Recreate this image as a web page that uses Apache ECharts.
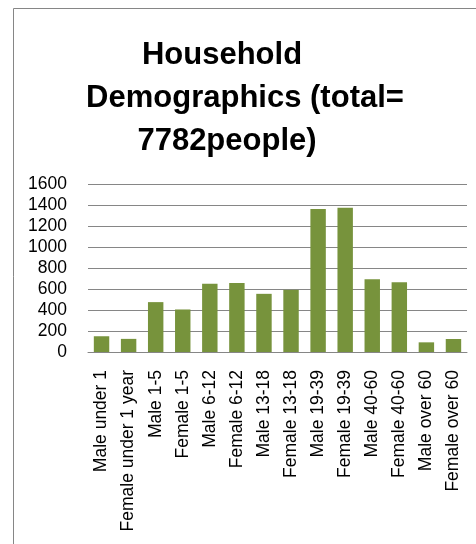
<!DOCTYPE html>
<html>
<head>
<meta charset="utf-8">
<script src="https://cdn.jsdelivr.net/npm/echarts@6/dist/echarts.min.js"></script>
<style>
  html, body { margin: 0; padding: 0; background: #fff; }
  #chart { width: 476px; height: 544px; }
</style>
</head>
<body>
<div id="chart"></div>
<script>
  // categories and values
  var categories = ['Male under 1', 'Female under 1 year', 'Male 1-5', 'Female 1-5',
    'Male 6-12', 'Female 6-12', 'Male 13-18', 'Female 13-18', 'Male 19-39',
    'Female 19-39', 'Male 40-60', 'Female 40-60', 'Male over 60', 'Female over 60'];
  var people = [150, 125, 475, 405, 650, 656, 554, 592, 1362, 1375, 694, 665, 92, 124];
  var titleLines = ['Household', 'Demographics (total=', '7782people)'];

  var chart = echarts.init(document.getElementById('chart'));

  var titleFont = {fontFamily: 'Liberation Sans', fontWeight: 'bold', fontSize: 31, color: '#000'};

  var option = {
    animation: false,
    // three title lines, each centred the way the picture has them
    title: [
      {text: titleLines[0], left: 217, top: 35, textAlign: 'center', textStyle: titleFont},
      {text: titleLines[1], left: 240, top: 78, textAlign: 'center', textStyle: titleFont},
      {text: titleLines[2], left: 222, top: 121, textAlign: 'center', textStyle: titleFont}
    ],
    graphic: [{
      type: 'rect',
      shape: {x: 13.5, y: 8.5, width: 600, height: 700},
      style: {fill: 'none', stroke: '#868686', lineWidth: 1},
      silent: true
    }],
    grid: {left: 88, right: 9, top: 184, bottom: 192},
    xAxis: {
      type: 'category',
      data: categories,
      axisTick: {show: false},
      axisLine: {lineStyle: {color: '#868686'}},
      axisLabel: {
        rotate: 90,
        interval: 0,
        margin: 18,
        color: '#000',
        fontFamily: 'Liberation Sans',
        fontSize: 17.5
      }
    },
    yAxis: {
      type: 'value',
      min: 0,
      max: 1600,
      interval: 200,
      axisLine: {show: false},
      axisTick: {show: false},
      splitLine: {lineStyle: {color: '#868686'}},
      axisLabel: {
        margin: 21,
        color: '#000',
        fontFamily: 'Liberation Sans',
        fontSize: 17.5,
        formatter: function (v) { return String(v); }
      }
    },
    series: [{
      type: 'bar',
      data: people,
      barWidth: '57%',
      itemStyle: {color: '#77933C'}
    }]
  };

  chart.setOption(option);
</script>
</body>
</html>
